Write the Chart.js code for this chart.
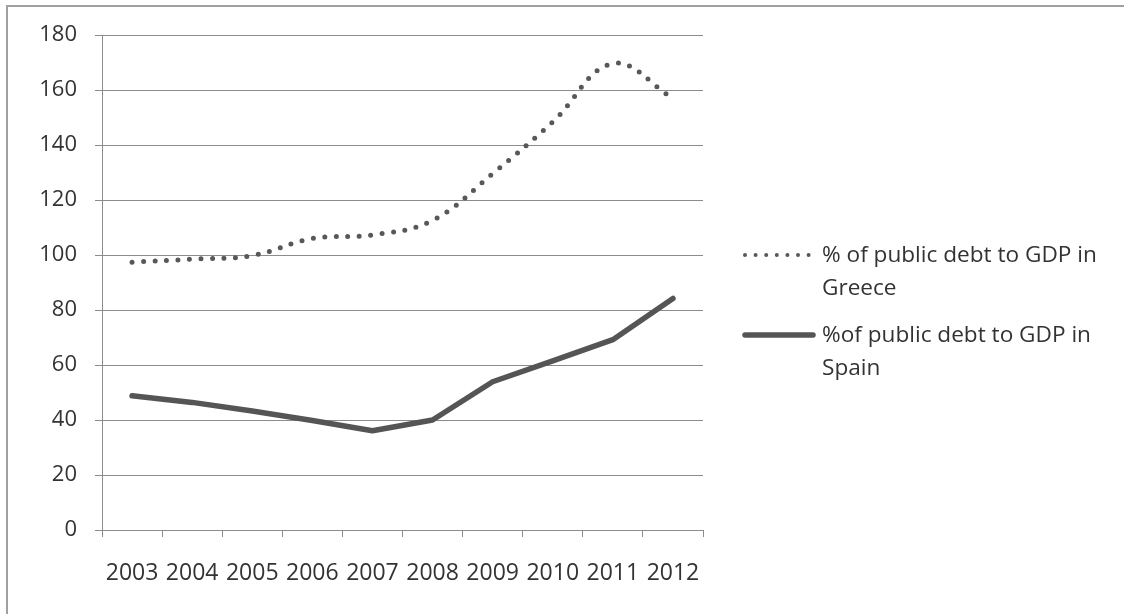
<!DOCTYPE html>
<html>
<head>
<meta charset="utf-8">
<script src="https://cdn.jsdelivr.net/npm/chart.js@4/dist/chart.umd.min.js"></script>
<style>
  html, body { margin: 0; padding: 0; background: #fff; }
  #wrap { position: relative; width: 1124px; height: 614px; }
  #frame {
    position: absolute; left: 6px; top: 5px; right: 0; bottom: 0;
    border-top: 2px solid #a0a0a0; border-left: 2px solid #a0a0a0;
    pointer-events: none;
  }
  canvas { position: absolute; left: 0; top: 0; }
</style>
</head>
<body>
<div id="wrap">
  <canvas id="chart" width="1124" height="614"></canvas>
  <div id="frame"></div>
</div>
<script>
// Years on the category axis
const years = ['2003', '2004', '2005', '2006', '2007', '2008', '2009', '2010', '2011', '2012'];

// Public debt as % of GDP
const greeceDebt = [97.4, 98.5, 99.8, 106.0, 107.3, 112.6, 129.6, 148.4, 169.6, 157.0];
const spainDebt  = [48.8, 46.4, 43.3, 39.8, 36.1, 40.0, 53.9, 61.5, 69.2, 84.2];

const greeceLabel = '% of public debt to GDP in Greece';
const spainLabel  = '%of public debt to GDP in Spain';

// Y axis range
const yMin = 0, yMax = 180, yStep = 20;

const FONT = '"Open Sans", "Liberation Sans", sans-serif';
const TEXT = '#333333';
const GRID = '#8c8c8c';

// Legend on the right, with wrapped labels and line samples
const sideLegend = {
  id: 'sideLegend',
  afterDraw(chart) {
    const ctx = chart.ctx;
    const items = chart.data.datasets;
    const textX = 822, sx0 = 745, sx1 = 811;
    const maxW = 1124 - textX - 8;
    const lineH = 33;
    let y = 256;
    ctx.save();
    ctx.font = '22.6px ' + FONT;
    ctx.fillStyle = TEXT;
    ctx.textBaseline = 'middle';
    ctx.textAlign = 'left';
    items.forEach((ds) => {
      const dotted = ds.borderDash && ds.borderDash.length;
      // sample
      ctx.save();
      ctx.strokeStyle = ds.borderColor;
      ctx.lineCap = 'round';
      if (dotted) {
        ctx.lineWidth = 4;
        ctx.setLineDash([0, 10.6]);
      } else {
        ctx.lineWidth = ds.borderWidth;
      }
      ctx.beginPath();
      ctx.moveTo(sx0, y - 1);
      ctx.lineTo(dotted ? sx1 : sx1 + 2, y - 1);
      ctx.stroke();
      ctx.restore();
      // wrapped text
      const words = ds.label.split(' ');
      const lines = [];
      let cur = '';
      words.forEach((w) => {
        const t = cur ? cur + ' ' + w : w;
        if (ctx.measureText(t).width > maxW && cur) { lines.push(cur); cur = w; }
        else cur = t;
      });
      if (cur) lines.push(cur);
      lines.forEach((ln, i) => ctx.fillText(ln, textX, y + i * lineH));
      y += 80;
    });
    ctx.restore();
  }
};

new Chart(document.getElementById('chart'), {
  type: 'line',
  data: {
    labels: years,
    datasets: [
      {
        label: greeceLabel,
        data: greeceDebt,
        borderColor: '#585858',
        borderWidth: 5,
        borderDash: [0, 11.5],
        borderCapStyle: 'round',
        tension: 0.4,
        pointRadius: 0,
        fill: false
      },
      {
        label: spainLabel,
        data: spainDebt,
        borderColor: '#555555',
        borderWidth: 5.5,
        borderCapStyle: 'round',
        borderJoinStyle: 'round',
        tension: 0,
        pointRadius: 0,
        fill: false
      }
    ]
  },
  options: {
    responsive: false,
    devicePixelRatio: 1,
    animation: false,
    layout: { padding: { top: 35, right: 421, left: 0, bottom: 0 } },
    plugins: {
      legend: { display: false },
      tooltip: { enabled: false }
    },
    scales: {
      x: {
        type: 'category',
        offset: true,
        grid: {
          offset: true,
          drawOnChartArea: false,
          drawTicks: true,
          tickLength: 7,
          color: GRID
        },
        border: { display: false },
        ticks: {
          color: TEXT,
          font: { family: FONT, size: 23 },
          padding: 23,
          maxRotation: 0,
          autoSkip: false
        },
        afterFit(scale) { scale.height = 84; }
      },
      y: {
        min: yMin,
        max: yMax,
        ticks: {
          stepSize: yStep,
          color: TEXT,
          font: { family: FONT, size: 22 },
          padding: 18
        },
        grid: {
          color: GRID,
          lineWidth: 1,
          drawTicks: true,
          tickLength: 7
        },
        border: { display: true, color: GRID, width: 1 },
        afterFit(scale) { scale.width = 102; }
      }
    }
  },
  plugins: [sideLegend]
});
</script>
</body>
</html>
